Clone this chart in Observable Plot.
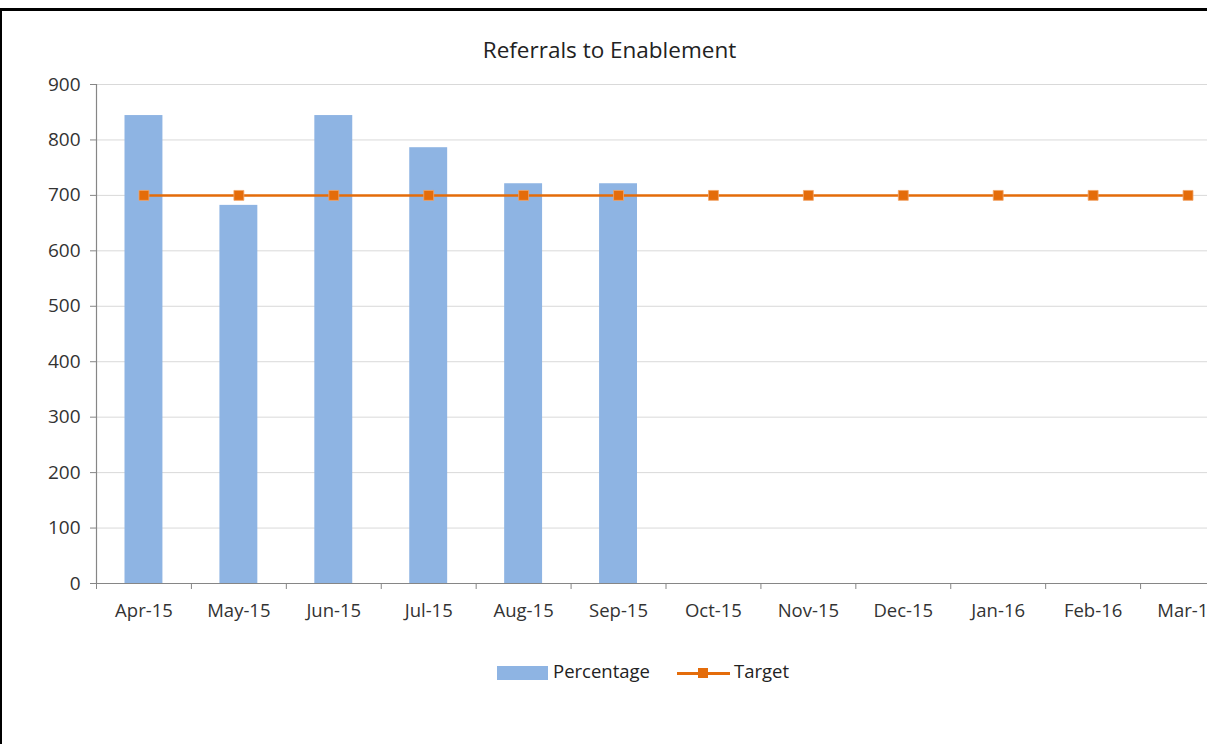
<!DOCTYPE html>
<html>
<head>
<meta charset="utf-8">
<script src="https://cdn.jsdelivr.net/npm/d3@7"></script>
<script src="https://cdn.jsdelivr.net/npm/@observablehq/plot@0.6"></script>
<style>
  html, body { margin: 0; padding: 0; background: #fff; overflow: hidden; }
  #wrap { position: relative; width: 1207px; height: 744px; overflow: hidden; background: #fff;
          font-family: "Open Sans", "Liberation Sans", sans-serif; color: #404040; }
  #topline { position: absolute; left: 0; top: 8px; width: 1207px; height: 3px; background: #000; }
  #leftline { position: absolute; left: 0; top: 8px; width: 2px; height: 736px; background: #000; }
  #title { position: absolute; left: 0; width: 1219px; top: 34px; text-align: center; font-size: 22.5px; color: #222; }
  #chart { position: absolute; left: 0; top: 0; }
  #chart svg { max-width: none !important; }
  .leg { position: absolute; font-size: 18.5px; color: #222; }
</style>
</head>
<body>
<div id="wrap">
  <div id="chart"></div>
  <div id="topline"></div>
  <div id="leftline"></div>
  <div id="title">Referrals to Enablement</div>
  <div class="leg" style="left:497px; top:666px; width:51px; height:14px; background:#8eb4e3;"></div>
  <div class="leg" style="left:553px; top:658px;">Percentage</div>
  <div class="leg" style="left:677px; top:672px; width:53px; height:2.5px; background:#e46c0a;"></div>
  <div class="leg" style="left:698px; top:668px; width:10px; height:10px; background:#e46c0a;"></div>
  <div class="leg" style="left:734px; top:658px;">Target</div>
</div>
<script>
const months = ["Apr-15","May-15","Jun-15","Jul-15","Aug-15","Sep-15","Oct-15","Nov-15","Dec-15","Jan-16","Feb-16","Mar-16"];
const percentage = [844, 682, 844, 786, 721, 721, null, null, null, null, null, null];
const target = [700, 700, 700, 700, 700, 700, 700, 700, 700, 700, 700, 700];
const yTicks = [0, 100, 200, 300, 400, 500, 600, 700, 800, 900];

const rows = months.map((m, i) => ({i, month: m, pct: percentage[i], target: target[i]}));
const barRows = rows.filter(d => d.pct != null);

const axisColor = "#868686";
const chart = Plot.plot({
  width: 1240,
  height: 744,
  marginLeft: 96,
  marginRight: 5,
  marginTop: 84,
  marginBottom: 161,
  style: {fontFamily: "'Open Sans', 'Liberation Sans', sans-serif", fontSize: "16px", color: "#333", background: "transparent", maxWidth: "none"},
  x: {type: "linear", domain: [0, months.length], axis: null},
  y: {domain: [0, 900], axis: null},
  marks: [
    Plot.ruleY(yTicks.filter(v => v > 0), {stroke: "#d9d9d9", strokeWidth: 1}),
    Plot.rectY(barRows, {x1: "i", x2: d => d.i + 1, y: "pct", fill: "#8eb4e3", insetLeft: 28.5, insetRight: 28.5}),
    Plot.ruleY([0], {stroke: axisColor, strokeWidth: 1.2}),
    Plot.ruleX([0], {y1: 0, y2: 900, stroke: axisColor, strokeWidth: 1.2}),
    Plot.axisY({ticks: yTicks, tickSize: 6, tickPadding: 10, stroke: axisColor, fontSize: 19, fill: "#333", label: null}),
    Plot.axisX({ticks: d3.range(months.length + 1), tickSize: 6, tickFormat: () => "", stroke: axisColor, label: null}),
    Plot.axisX({ticks: d3.range(months.length).map(i => i + 0.5), tickSize: 0, tickPadding: 20, tickFormat: v => months[Math.floor(v)], fontSize: 18.5, fill: "#333", label: null}),
    Plot.lineY(rows, {x: d => d.i + 0.5, y: "target", stroke: "#e46c0a", strokeWidth: 2.5}),
    Plot.dot(rows, {x: d => d.i + 0.5, y: "target", symbol: "square", r: 5.6, fill: "#e46c0a", stroke: "#f3a66a", strokeWidth: 0.8})
  ]
});
chart.style.maxWidth = "none";
document.getElementById("chart").appendChild(chart);
</script>
</body>
</html>
